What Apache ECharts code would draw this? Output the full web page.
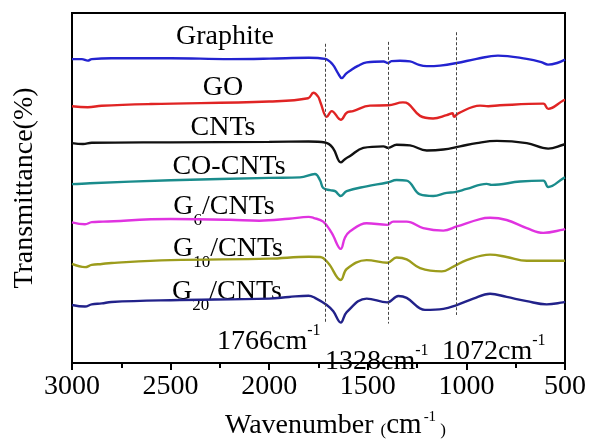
<!DOCTYPE html>
<html>
<head>
<meta charset="utf-8">
<script src="https://cdn.jsdelivr.net/npm/echarts@6/dist/echarts.min.js"></script>
<style>
  html, body { margin: 0; padding: 0; background: #fff; }
  #chart { width: 589px; height: 445px; }
</style>
</head>
<body>
<div id="chart"></div>
<script>
// spectra: [wavenumber, transmittance (offset, arbitrary units)]
var graphite = [[3000,316],[2950,316],[2920,314.5],[2900,316],[2800,317],[2500,317],[2200,316],[2000,316.5],[1800,317.5],[1717,316.3],[1680,311],[1650,301],[1632,296.3],[1610,301],[1590,304],[1550,309],[1506,312.7],[1420,313.5],[1398,312],[1380,314],[1337,314.3],[1286,313.7],[1240,310],[1201,308.7],[1134,309.3],[1049,312],[948,316.3],[840,319.7],[694,316.3],[620,313],[586,310.3],[540,312],[500,315.5]];
var go = [[3000,267],[2920,266],[2850,267.5],[2600,269.3],[2000,272],[1803,275.3],[1776,281],[1752,277],[1740,271],[1708,256],[1683,262],[1637,253],[1607,260.3],[1575,262],[1489,267.7],[1396,268],[1322,271],[1295,269.7],[1235,257],[1169,254.3],[1100,257.7],[1070,259.7],[1063,256],[1041,259.7],[931,267.7],[889,267],[830,268],[610,269.7],[585,264.3],[509,273],[500,273.5]];
var cnts = [[3000,228.7],[2944,227.7],[2900,229],[2500,229.5],[2000,230],[1800,230.3],[1717,229.3],[1677,223.7],[1637,208.7],[1616,212],[1590,215.3],[1523,223.7],[1421,225.3],[1396,223.7],[1354,227],[1286,226.3],[1201,221],[1117,222],[1032,225.3],[948,228.7],[846,231],[694,228.7],[585,223],[509,227],[500,227.5]];
var coCnts = [[3000,186],[2909,187],[2500,190],[2000,192.5],[1844,193],[1768,196.5],[1742,190],[1726,182],[1692,179.7],[1666,178.7],[1637,173.7],[1607,178.7],[1506,183.7],[1401,187.7],[1354,190.3],[1303,189.7],[1235,175.3],[1168,173.7],[1100,177],[1058,177.7],[999,181],[897,186.3],[872,185.3],[728,188.7],[610,189.7],[585,183],[509,192],[500,193]];
var g6 = [[3000,146.3],[2934,144.3],[2900,146.5],[2843,147],[2500,149.7],[2200,149],[2050,148],[1900,150],[1800,152],[1776,151],[1726,147],[1683,135.3],[1637,118.7],[1616,130.3],[1590,137],[1506,145.3],[1401,143.7],[1371,147],[1303,147],[1219,140.3],[1117,137.7],[1049,142],[931,149.7],[880,151],[796,148.7],[694,140.3],[610,135.3],[509,138.7],[500,139.5]];
var g10 = [[3000,103],[2934,99.7],[2900,102],[2849,103],[2800,104],[2500,107],[2000,108.5],[1800,110.5],[1742,110.3],[1700,103.7],[1637,86.3],[1607,97.7],[1506,107],[1401,104.3],[1354,109.7],[1303,107.7],[1235,98.7],[1125,95.3],[1066,100.3],[999,107],[880,112.7],[796,110.3],[694,106.3],[509,106.3],[500,106.5]];
var g20 = [[3000,60.3],[2934,58.7],[2900,61],[2849,62],[2800,63.5],[2500,65.3],[2000,67],[1900,68.7],[1800,70],[1768,67.7],[1708,60.3],[1675,53.7],[1637,42],[1607,53],[1506,67],[1401,63],[1345,69.7],[1303,67.7],[1210,55.3],[1117,56.3],[1049,60.3],[965,67],[880,72],[796,68.7],[694,64.3],[593,61],[509,63],[500,63.5]];

var seriesNames = ['Graphite', 'GO', 'CNTs', 'CO-CNTs', 'G6/CNTs', 'G10/CNTs', 'G20/CNTs'];
var seriesData = [graphite, go, cnts, coCnts, g6, g10, g20];
var seriesColors = ['#2323d0', '#e02424', '#111111', '#1a8c8c', '#e033e0', '#9c9c1c', '#22228a'];

// dashed guide lines: [wavenumber, top, bottom]
var guideLines = [[1717, 332, 41], [1394, 334, 41], [1053, 344, 50]];

var serif = '"Liberation Serif", "DejaVu Serif", serif';
var chart = echarts.init(document.getElementById('chart'));

var series = seriesData.map(function (d, i) {
  var s = {
    name: seriesNames[i],
    type: 'line',
    data: d,
    showSymbol: false,
    smooth: 0.4,
    lineStyle: { color: seriesColors[i], width: 2.4 },
    itemStyle: { color: seriesColors[i] },
    silent: true
  };
  if (i === 0) {
    s.markLine = {
      silent: true,
      symbol: 'none',
      label: { show: false },
      lineStyle: { color: '#444', type: [3, 2], width: 1 },
      data: guideLines.map(function (g) {
        return [{ coord: [g[0], g[1]] }, { coord: [g[0], g[2]] }];
      })
    };
  }
  return s;
});

var main = { fontSize: 28, fontFamily: serif, color: '#000', lineHeight: 28, verticalAlign: 'top' };
var sub = { fontSize: 17, fontFamily: serif, color: '#000', lineHeight: 17, verticalAlign: 'top', padding: [19, 0, 0, 0] };
var mainS = { fontSize: 28, fontFamily: serif, color: '#000', lineHeight: 28, verticalAlign: 'top', padding: [5, 0, 0, 0] };
var sup = { fontSize: 16, fontFamily: serif, color: '#000', lineHeight: 16, verticalAlign: 'top' };

function label(text, x, y, align) {
  return {
    type: 'text', x: x, y: y, silent: true,
    style: {
      text: text, align: align || 'center', verticalAlign: 'middle',
      font: '28px ' + serif, fill: '#000',
      rich: { m: main, s: sub, ms: mainS, u: sup }
    }
  };
}

chart.setOption({
  animation: false,
  grid: { left: 72, right: 24, top: 13, bottom: 68, show: true, borderColor: '#000', borderWidth: 2 },
  xAxis: {
    type: 'value', inverse: true, min: 500, max: 3000, interval: 500,
    axisLine: { lineStyle: { color: '#000', width: 2 } },
    axisTick: { length: 7, lineStyle: { color: '#000', width: 2 } },
    minorTick: { show: true, splitNumber: 2, length: 5, lineStyle: { color: '#000', width: 2 } },
    splitLine: { show: false },
    axisLabel: {
      fontSize: 28, fontFamily: serif, color: '#000', margin: 10,
      formatter: function (v) { return String(v); }
    },
    name: '{a|Wavenumber }{p|(}{b|cm}{c|-1}{p| )}',
    nameLocation: 'middle', nameGap: 47,
    nameTextStyle: {
      padding: [0, 0, 0, 34],
      rich: {
        a: { fontSize: 28, fontFamily: serif, color: '#000', lineHeight: 30, verticalAlign: 'bottom' },
        b: { fontSize: 29, fontFamily: serif, color: '#000', lineHeight: 30, verticalAlign: 'bottom' },
        p: { fontSize: 17, fontFamily: serif, color: '#000', lineHeight: 17, verticalAlign: 'bottom', padding: [0, 0, 1, 0] },
        c: { fontSize: 15, fontFamily: serif, color: '#000', lineHeight: 15, verticalAlign: 'top', padding: [0, 0, 0, 2] }
      }
    }
  },
  yAxis: {
    type: 'value', min: 0, max: 364,
    axisLine: { show: true, lineStyle: { color: '#000', width: 2 } },
    axisTick: { show: false },
    axisLabel: { show: false },
    splitLine: { show: false },
    name: 'Transmittance(%)', nameLocation: 'middle', nameGap: 33,
    nameTextStyle: { fontSize: 28, fontFamily: serif, color: '#000' }
  },
  graphic: [
    label('{m|Graphite}', 225, 37),
    label('{m|GO}', 223, 88),
    label('{m|CNTs}', 223, 128),
    label('{m|CO-CNTs}', 229, 167),
    label('{m|G}{s|6}{m|/CNTs}', 224, 207),
    label('{m|G}{s|10}{m|/CNTs}', 228, 249),
    label('{m|G}{s|20}{m|/CNTs}', 227, 292),
    label('{ms|1766cm}{u|-1}', 217, 337, 'left'),
    label('{ms|1328cm}{u|-1}', 325, 357, 'left'),
    label('{ms|1072cm}{u|-1}', 442, 347, 'left')
  ],
  series: series
});
</script>
</body>
</html>
